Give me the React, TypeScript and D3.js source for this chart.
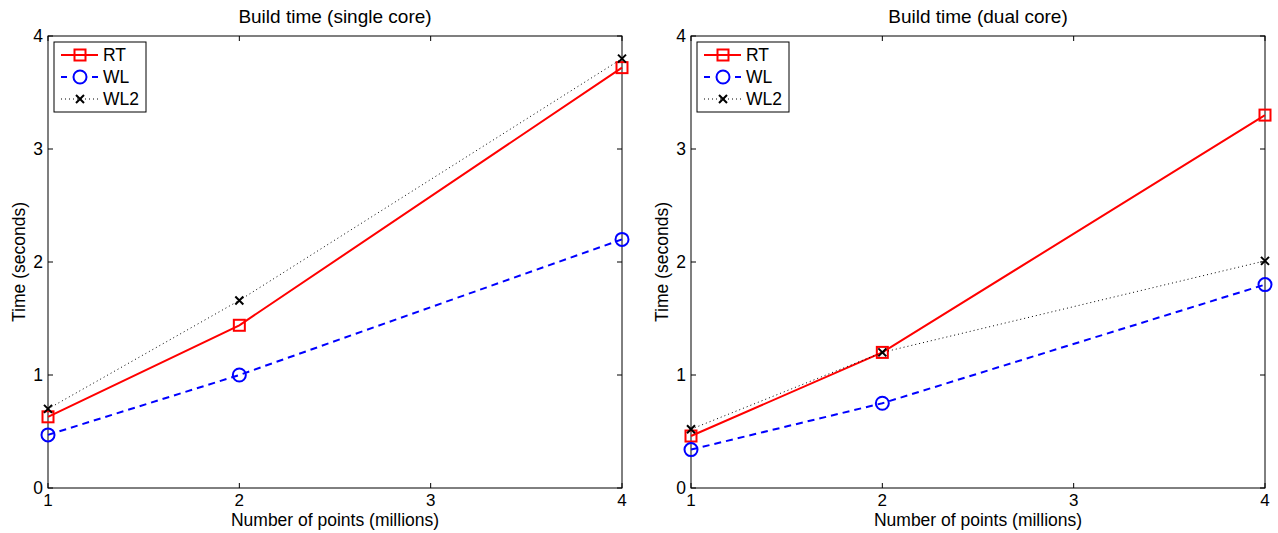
import React from 'react'
import * as d3 from 'd3'

const points = [1, 2, 4]
const xTicks = [1, 2, 3, 4]
const yTicks = [0, 1, 2, 3, 4]

const singleRT = [0.63, 1.44, 3.72]
const singleWL = [0.47, 1.0, 2.2]
const singleWL2 = [0.7, 1.66, 3.8]

const dualRT = [0.46, 1.2, 3.3]
const dualWL = [0.34, 0.75, 1.8]
const dualWL2 = [0.52, 1.2, 2.01]

const seriesNames = ['RT', 'WL', 'WL2']

const FONT = 'Liberation Sans, Arial, Helvetica, sans-serif'
const FS = 17.5

const styles = [
  { color: '#ff0000', dash: null, legendDash: null, width: 2, marker: 'square' },
  { color: '#0000ff', dash: '7,5', legendDash: '6,25', width: 2, marker: 'circle' },
  { color: '#000000', dash: '1,3', legendDash: '1,3', width: 1, marker: 'x' },
]

function Marker({ type, x, y, color }) {
  if (type === 'square')
    return <rect x={x - 5.5} y={y - 5.5} width={11} height={11} fill="none" stroke={color} strokeWidth={2} />
  if (type === 'circle')
    return <circle cx={x} cy={y} r={6.5} fill="none" stroke={color} strokeWidth={2} />
  return (
    <path d={`M${x - 4},${y - 4}L${x + 4},${y + 4}M${x - 4},${y + 4}L${x + 4},${y - 4}`} stroke={color} strokeWidth={2} />
  )
}

function Panel({ left, right, title, data }) {
  const top = 36
  const bottom = 488
  const x = d3.scaleLinear().domain([1, 4]).range([left, right])
  const y = d3.scaleLinear().domain([0, 4]).range([bottom, top])
  const line = d3.line<number>().x((d, i) => x(points[i])).y((d) => y(d))
  const cx = (left + right) / 2
  const lx = left + 6
  const ly = top + 6

  return (
    <g fontFamily={FONT} fontSize={FS}>
      <text x={cx} y={23} textAnchor="middle" fontSize={19}>{title}</text>
      <rect x={left} y={top} width={right - left} height={bottom - top} fill="none" stroke="#000" strokeWidth={1} />
      {xTicks.map((t) => (
        <g key={'x' + t}>
          <line x1={x(t)} x2={x(t)} y1={bottom} y2={bottom - 5} stroke="#000" />
          <line x1={x(t)} x2={x(t)} y1={top} y2={top + 5} stroke="#000" />
          <text x={x(t)} y={bottom + 18} textAnchor="middle" fontSize={17}>{t}</text>
        </g>
      ))}
      {yTicks.map((t) => (
        <g key={'y' + t}>
          <line x1={left} x2={left + 5} y1={y(t)} y2={y(t)} stroke="#000" />
          <line x1={right} x2={right - 5} y1={y(t)} y2={y(t)} stroke="#000" />
          <text x={left - 5} y={y(t) + 6} textAnchor="end">{t}</text>
        </g>
      ))}
      <text x={cx} y={526} textAnchor="middle">Number of points (millions)</text>
      <text transform={`translate(${left - 23},${(top + bottom) / 2}) rotate(-90)`} textAnchor="middle">Time (seconds)</text>
      {data.map((vals, k) => (
        <g key={k}>
          <path d={line(vals)} fill="none" stroke={styles[k].color} strokeWidth={styles[k].width}
            strokeDasharray={styles[k].dash || undefined} />
          {vals.map((v, i) => (
            <Marker key={i} type={styles[k].marker} x={x(points[i])} y={y(v)} color={styles[k].color} />
          ))}
        </g>
      ))}
      <rect x={lx} y={ly} width={92} height={70} fill="#fff" stroke="#000" strokeWidth={1} />
      {seriesNames.map((name, k) => {
        const ry = ly + 13 + k * 22
        return (
          <g key={name}>
            <line x1={lx + 7} x2={lx + 44} y1={ry} y2={ry} stroke={styles[k].color} strokeWidth={styles[k].width}
              strokeDasharray={styles[k].legendDash || undefined} />
            <Marker type={styles[k].marker} x={lx + 26} y={ry} color={styles[k].color} />
            <text x={lx + 49} y={ry + 6}>{name}</text>
          </g>
        )
      })}
    </g>
  )
}

export default function App() {
  return (
    <svg width={1278} height={533} style={{ position: 'absolute', left: 0, top: 0 }}>
      <rect width={1278} height={533} fill="#fff" />
      <Panel left={48} right={622} title="Build time (single core)" data={[singleRT, singleWL, singleWL2]} />
      <Panel left={691} right={1265} title="Build time (dual core)" data={[dualRT, dualWL, dualWL2]} />
    </svg>
  )
}
